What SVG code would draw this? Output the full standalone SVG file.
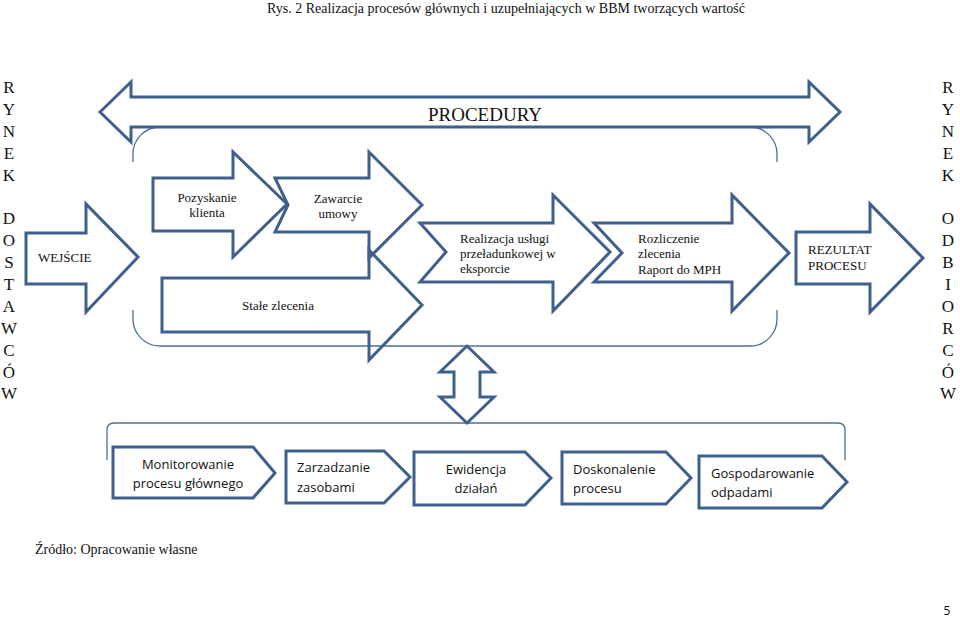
<svg xmlns="http://www.w3.org/2000/svg" width="960" height="618" viewBox="0 0 960 618">
<style>
.shape{fill:none;stroke:#3f5f8c;stroke-width:3;stroke-linejoin:miter}
.thin{fill:none;stroke:#4f6f96;stroke-width:1.3}
.side{font-family:"Liberation Serif","Times New Roman",serif;font-size:17px;fill:#111;text-anchor:middle}
</style>
<rect width="960" height="618" fill="#fff"/>
<text x="506" y="13" style="font-family:'Liberation Serif','Times New Roman',serif;font-size:14px" fill="#111" text-anchor="middle">Rys. 2 Realizacja procesów głównych i uzupełniających w BBM tworzących wartość</text>

<g id="side-left">
<text class="side" x="9" y="93">R</text><text class="side" x="9" y="115">Y</text><text class="side" x="9" y="137">N</text><text class="side" x="9" y="159">E</text><text class="side" x="9" y="181">K</text>
<text class="side" x="9" y="224">D</text><text class="side" x="9" y="246">O</text><text class="side" x="9" y="268">S</text><text class="side" x="9" y="290">T</text><text class="side" x="9" y="312">A</text><text class="side" x="9" y="334">W</text><text class="side" x="9" y="356">C</text><text class="side" x="9" y="378">Ó</text><text class="side" x="9" y="399">W</text>
</g>
<g id="side-right">
<text class="side" x="948" y="93">R</text><text class="side" x="948" y="115">Y</text><text class="side" x="948" y="137">N</text><text class="side" x="948" y="159">E</text><text class="side" x="948" y="181">K</text>
<text class="side" x="948" y="224">O</text><text class="side" x="948" y="246">D</text><text class="side" x="948" y="268">B</text><text class="side" x="948" y="290">I</text><text class="side" x="948" y="312">O</text><text class="side" x="948" y="334">R</text><text class="side" x="948" y="356">C</text><text class="side" x="948" y="378">Ó</text><text class="side" x="948" y="399">W</text>
</g>

<g id="brackets">
<path class="thin" d="M133,162 L133,154 A27,27 0 0 1 160,127 L750,127 A27,27 0 0 1 777,154 L777,162"/>
<path class="thin" d="M133,310 L133,319 A27,27 0 0 0 160,346 L750,346 A27,27 0 0 0 777,319 L777,310"/>
<path class="thin" d="M107,460 L107,430 Q107,423 114,423 L838,423 Q845,423 845,430 L845,460"/>
</g>

<g font-family="'Liberation Serif','Times New Roman',serif" font-size="13" fill="#111">
<g id="procedury">
<path class="shape" d="M100,112 L131,82 L131,97 L809,97 L809,82 L840,112 L809,142 L809,127 L131,127 L131,142 Z"/>
<text x="485" y="121" font-size="19" text-anchor="middle">PROCEDURY</text>
</g>

<g id="wejscie">
<path class="shape" d="M26,233 L86,233 L86,204 L138,257 L86,312 L86,284 L26,284 Z"/>
<text x="38" y="262">WEJŚCIE</text>
</g>

<g id="pozyskanie">
<path class="shape" d="M153,178 L233,178 L233,152 L287,204 L233,257 L233,231 L153,231 Z"/>
<text text-anchor="middle"><tspan x="207" y="202">Pozyskanie</tspan><tspan x="207" y="217">klienta</tspan></text>
</g>

<g id="zawarcie">
<path class="shape" d="M275,178 L369,178 L369,152 L422,205 L369,258 L369,232 L275,232 L288,205 Z"/>
<text text-anchor="middle"><tspan x="338" y="203">Zawarcie</tspan><tspan x="338" y="218">umowy</tspan></text>
</g>

<g id="stale">
<path class="shape" d="M162,278 L369,278 L369,250 L422,305 L369,360 L369,332 L162,332 Z"/>
<text x="278" y="310" text-anchor="middle">Stałe zlecenia</text>
</g>

<g id="realizacja">
<path class="shape" d="M420,223 L553,223 L553,195 L610,252 L553,311 L553,282 L420,282 L446,252 Z"/>
<text><tspan x="460" y="243">Realizacja usługi</tspan><tspan x="460" y="258">przeładunkowej w</tspan><tspan x="460" y="273">eksporcie</tspan></text>
</g>

<g id="rozliczenie">
<path class="shape" d="M594,223 L732,223 L732,195 L789,253 L732,311 L732,282 L594,282 L622,253 Z"/>
<text><tspan x="638" y="243">Rozliczenie</tspan><tspan x="638" y="258">zlecenia</tspan><tspan x="638" y="274">Raport do MPH</tspan></text>
</g>

<g id="rezultat">
<path class="shape" d="M796,232 L870,232 L870,204 L923,258 L870,312 L870,284 L796,284 Z"/>
<text><tspan x="808" y="254">REZULTAT</tspan><tspan x="808" y="270">PROCESU</tspan></text>
</g>
</g>

<g id="connectors">
<path class="shape" d="M467,346 L494,372 L480,372 L480,397 L494,397 L467,423 L440,397 L454,397 L454,372 L440,372 Z"/>
</g>

<g font-family="'Open Sans','Noto Sans',sans-serif" font-size="13" fill="#111">
<g id="monitorowanie">
<path class="shape" d="M113,447 L253,447 L275,473 L253,498 L113,498 Z"/>
<text text-anchor="middle"><tspan x="188" y="469">Monitorowanie</tspan><tspan x="188" y="488">procesu głównego</tspan></text>
</g>
<g id="zarzadzanie">
<path class="shape" d="M286,451 L384,451 L410,477 L384,503 L286,503 Z"/>
<text><tspan x="297" y="472">Zarzadzanie</tspan><tspan x="297" y="492">zasobami</tspan></text>
</g>
<g id="ewidencja">
<path class="shape" d="M414,452 L525,452 L551,478 L525,505 L414,505 Z"/>
<text text-anchor="middle"><tspan x="476" y="474">Ewidencja</tspan><tspan x="476" y="493">działań</tspan></text>
</g>
<g id="doskonalenie">
<path class="shape" d="M562,452 L666,452 L691,478 L666,504 L562,504 Z"/>
<text><tspan x="573" y="474">Doskonalenie</tspan><tspan x="573" y="493">procesu</tspan></text>
</g>
<g id="gospodarowanie">
<path class="shape" d="M699,456 L822,456 L847,482 L822,508 L699,508 Z"/>
<text><tspan x="711" y="478">Gospodarowanie</tspan><tspan x="711" y="497">odpadami</tspan></text>
</g>
</g>

<text x="35" y="554" style="font-family:'Liberation Serif','Times New Roman',serif;font-size:14px" fill="#111">Źródło: Opracowanie własne</text>
<text x="947" y="615" style="font-family:'Open Sans','Noto Sans',sans-serif;font-size:12px" fill="#111" text-anchor="middle">5</text>
</svg>
